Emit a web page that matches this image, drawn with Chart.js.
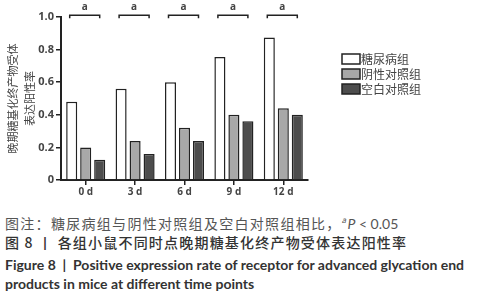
<!DOCTYPE html>
<html>
<head>
<meta charset="utf-8">
<script src="https://cdn.jsdelivr.net/npm/chart.js@4/dist/chart.umd.min.js"></script>
<style>
  html, body { margin:0; padding:0; background:#fff; width:503px; height:300px; overflow:hidden; }
  #wrap { position:absolute; left:0; top:0; width:503px; height:205px; }
  .cap { position:absolute; left:5px; white-space:nowrap; }
  #c1 { top:213px; font:14px "Noto Sans CJK SC"; letter-spacing:1.3px; color:#555; }
  #c2 { top:232px; font:500 14px "Noto Sans CJK SC"; letter-spacing:1.2px; color:#333; }
  #c3 { top:256px; font:bold 14px Lato; color:#333; }
  #c4 { top:275px; font:bold 14px Lato; color:#333; }
</style>
</head>
<body>
<div id="wrap"><canvas id="chart" width="503" height="205"></canvas></div>
<div class="cap" id="c1">图注：糖尿病组与阴性对照组及空白对照组相比，<sup style="font-size:8px;font-style:italic;">a</sup><i style="font-family:Lato;letter-spacing:0">P</i><span style="font-family:Lato;letter-spacing:0"> &lt; 0.05</span></div>
<div class="cap" id="c2">图 8 丨 各组小鼠不同时点晚期糖基化终产物受体表达阳性率</div>
<div class="cap" id="c3">Figure 8 &nbsp;| &nbsp;Positive expression rate of receptor for advanced glycation end</div>
<div class="cap" id="c4">products in mice at different time points</div>
<script>
const categories = ['0 d', '3 d', '6 d', '9 d', '12 d'];
const seriesNames = ['糖尿病组', '阴性对照组', '空白对照组'];
const diabetes = [0.48, 0.56, 0.60, 0.755, 0.875];
const negative = [0.20, 0.24, 0.32, 0.40, 0.44];
const blank = [0.125, 0.16, 0.24, 0.36, 0.40];
const sigLabels = ['a', 'a', 'a', 'a', 'a'];
const yTitle = ['晚期糖基化终产物受体', '表达阳性率'];

const colors = ['#ffffff', '#a8a8a8', '#4d4d4d'];

const overlay = {
  id: 'overlay',
  afterDraw(chart) {
    const ctx = chart.ctx;
    const y = chart.scales.y;
    const m0 = chart.getDatasetMeta(0), m2 = chart.getDatasetMeta(2);
    ctx.save();
    ctx.strokeStyle = '#222';
    ctx.lineWidth = 1.5;
    ctx.fillStyle = '#444';
    ctx.font = 'bold 10px "Open Sans"';
    ctx.textAlign = 'center';
    ctx.textBaseline = 'bottom';
    const by = y.getPixelForValue(1.01);
    categories.forEach((c, i) => {
      const x1 = m0.data[i].x - 2, x2 = m2.data[i].x;
      ctx.beginPath();
      ctx.moveTo(x1, by + 3); ctx.lineTo(x1, by); ctx.lineTo(x2, by); ctx.lineTo(x2, by + 3);
      ctx.stroke();
      ctx.fillText(sigLabels[i], (x1 + x2) / 2, by - 3);
    });
    // legend
    ctx.textAlign = 'left';
    ctx.textBaseline = 'middle';
    ctx.font = '12px "Noto Sans CJK SC"';
    seriesNames.forEach((n, i) => {
      const ly = 54 + i * 15;
      ctx.fillStyle = colors[i];
      ctx.fillRect(342, ly, 18, 10);
      ctx.strokeStyle = '#222';
      ctx.lineWidth = 1.5;
      ctx.strokeRect(342, ly, 18, 10);
      ctx.fillStyle = '#444';
      ctx.fillText(n, 361, ly + 5);
    });
    ctx.restore();
  }
};

new Chart(document.getElementById('chart'), {
  type: 'bar',
  data: {
    labels: categories,
    datasets: [diabetes, negative, blank].map((d, i) => ({
      label: seriesNames[i],
      data: d,
      backgroundColor: colors[i],
      borderColor: '#222',
      borderWidth: 1.5,
      borderSkipped: 'bottom',
      categoryPercentage: 0.85,
      barPercentage: 0.79
    }))
  },
  options: {
    responsive: false,
    animation: false,
    events: [],
    layout: { padding: { top: 17, right: 195, left: 0, bottom: 0 } },
    plugins: { legend: { display: false }, tooltip: { enabled: false } },
    scales: {
      x: {
        afterFit(s) { s.height = 25; },
        grid: { display: true, drawOnChartArea: false, drawTicks: true, tickLength: 5, color: '#222', lineWidth: 1.5, offset: false },
        border: { display: true, color: '#222', width: 2 },
        ticks: { color: '#444', font: { family: 'Open Sans', weight: 'bold', size: 10 }, padding: 1 }
      },
      y: {
        min: 0, max: 1.0,
        afterFit(s) { s.width = 61; },
        ticks: { stepSize: 0.2, color: '#444', font: { family: 'Open Sans', weight: 'bold', size: 11 }, padding: 2,
          callback: v => (Math.abs(v) < 1e-9 ? '0' : v.toFixed(1)) },
        grid: { display: true, drawOnChartArea: false, tickLength: 5, color: '#222', lineWidth: 1.5 },
        border: { display: true, color: '#222', width: 2 },
        title: { display: true, text: yTitle, color: '#444', font: { family: 'Noto Sans CJK SC', size: 11, lineHeight: 1.5 }, padding: { top: 5, bottom: 0 } }
      }
    }
  },
  plugins: [overlay]
});
</script>
</body>
</html>
